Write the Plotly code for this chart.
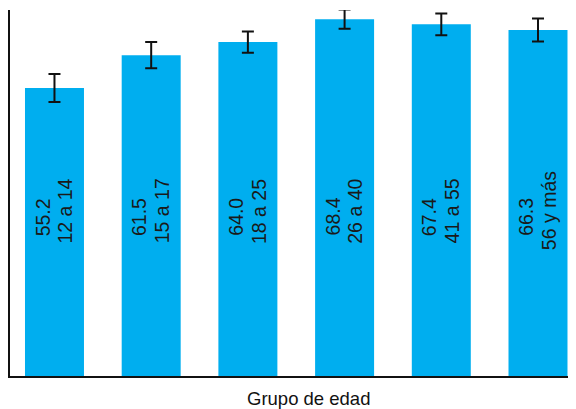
import plotly.graph_objects as go

categories = ["12 a 14", "15 a 17", "18 a 25", "26 a 40", "41 a 55", "56 y más"]
values = [55.2, 61.5, 64.0, 68.4, 67.4, 66.3]
errors = [2.7, 2.5, 2.05, 1.85, 2.1, 2.2]
value_labels = ["55.2", "61.5", "64.0", "68.4", "67.4", "66.3"]

bar_color = "#00AEEF"
font_family = "Liberation Sans, Arial, Helvetica, sans-serif"

# page has an 8px body margin; plot area in page pixels
plot_left, plot_right, plot_top, plot_bottom = 10, 576, 10, 376
offset = 8

fig = go.Figure()
fig.add_trace(go.Bar(
    x=categories,
    y=values,
    marker=dict(color=bar_color, line=dict(width=0)),
    error_y=dict(type="data", array=errors, visible=True, color="#111111", thickness=2, width=6),
    hoverinfo="skip",
    cliponaxis=False,
))

annotations = []
for cat, vl in zip(categories, value_labels):
    annotations.append(dict(
        x=cat, y=30.5, xref="x", yref="y", text=vl, textangle=-90,
        showarrow=False, xanchor="center", yanchor="middle", xshift=-12,
        font=dict(family=font_family, size=19.5, color="#1a1a1a"),
    ))
    annotations.append(dict(
        x=cat, y=31.6, xref="x", yref="y", text=cat, textangle=-90,
        showarrow=False, xanchor="center", yanchor="middle", xshift=11,
        font=dict(family=font_family, size=19.5, color="#1a1a1a"),
    ))

annotations.append(dict(
    x=(308 - plot_left) / (plot_right - plot_left),
    y=-(398 - plot_bottom) / (plot_bottom - plot_top),
    xref="paper", yref="paper", text="Grupo de edad", showarrow=False,
    xanchor="center", yanchor="middle",
    font=dict(family=font_family, size=18.5, color="#111111"),
))

fig.update_layout(
    width=576 - offset, height=409 - offset,
    margin=dict(l=plot_left - offset, r=0, t=plot_top - offset, b=409 - plot_bottom, pad=0),
    paper_bgcolor="white", plot_bgcolor="white",
    bargap=0.39,
    showlegend=False,
    annotations=annotations,
    font=dict(family=font_family),
)
fig.update_xaxes(
    range=[-0.46, 5.393], showline=True, linecolor="#111111", linewidth=2,
    showticklabels=False, ticks="", showgrid=False, zeroline=False,
)
fig.update_yaxes(
    range=[0, 70.15], showline=True, linecolor="#111111", linewidth=2,
    showticklabels=False, ticks="", showgrid=False, zeroline=False,
)

fig.write_html("out.html")
